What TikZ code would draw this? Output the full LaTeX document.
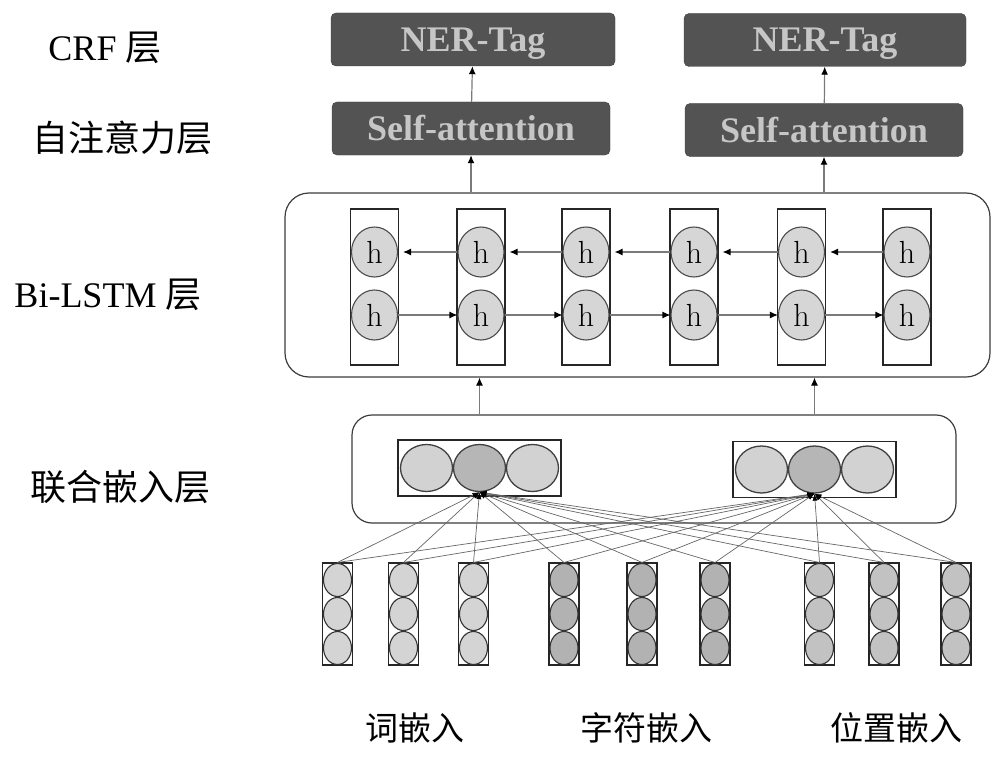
\documentclass[tikz,border=0pt]{standalone}
\usepackage{fontspec}
\newfontfamily\latfont{Liberation Serif}
\newfontfamily\cjkfont{Noto Sans CJK SC}
\usepackage{tikz}
\usetikzlibrary{arrows,arrows.meta,calc,positioning,shapes.geometric}
\tikzset{>=latex}
\definecolor{tagfill}{HTML}{535353}
\definecolor{tagtext}{HTML}{C6C6C6}
\definecolor{cellgray}{HTML}{D6D6D6}
\definecolor{emblight}{HTML}{D2D2D2}
\definecolor{embdark}{HTML}{B6B6B6}
\definecolor{grpa}{HTML}{D4D4D4}
\definecolor{grpb}{HTML}{B2B2B2}
\definecolor{grpc}{HTML}{C2C2C2}
\definecolor{linegray}{HTML}{7A7A7A}
\definecolor{framegray}{HTML}{3C3C3C}
\tikzset{
	tagbox/.style={draw=framegray, fill=tagfill, rounded corners=5pt, minimum height=53pt, text height=24pt, text depth=0pt, text=tagtext, font=\latfont\bfseries\fontsize{36}{36}\selectfont},
	layerbox/.style={draw=framegray, line width=1.2pt},
	cellbox/.style={draw=black!85, line width=1.1pt, minimum width=48pt, minimum height=156pt},
	hcirc/.style={ellipse, draw=black!70, line width=1.1pt, fill=cellgray, minimum width=46pt, minimum height=50pt, inner sep=0pt, font=\fontsize{32}{32}\selectfont},
	embcirc/.style={ellipse, draw=black!75, line width=1.3pt, minimum width=52pt, minimum height=47pt, inner sep=0pt},
	vecbox/.style={draw=black!85, line width=1.1pt, minimum width=30pt, minimum height=102pt},
	veccirc/.style={ellipse, draw=black!80, line width=1.1pt, minimum width=28pt, minimum height=33pt, inner sep=0pt},
	flow/.style={-{Latex[length=8pt,width=7pt,black]}, draw=linegray, line width=1.2pt},
	link/.style={-{Latex[length=7pt,width=5pt,black]}, draw=black!60, line width=0.7pt},
	layername/.style={font=\fontsize{36}{36}\selectfont},
	inname/.style={font=\cjkfont\fontsize{33}{33}\selectfont}
}

\begin{document}
\begin{tikzpicture}[x=1pt, y=-1pt]
	\useasboundingbox (0,0) rectangle (1000,757);
	% layer names
	\node[layername] (lcrf) at (105,48) {\latfont CRF \cjkfont 层};
	\node[layername] (latt) at (122,138) {\cjkfont 自注意力层};
	\node[layername] (llstm) at (108,295) {\latfont Bi-LSTM \cjkfont 层};
	\node[layername] (lemb) at (120,487) {\cjkfont 联合嵌入层};

	\node[tagbox, minimum width=284pt] (ner1) at (473,39.5) {NER-Tag};
	\node[tagbox, minimum width=282pt] (ner2) at (825,40) {NER-Tag};
	\node[tagbox, minimum width=278pt] (sa1) at (471,128.5) {Self-attention};
	\node[tagbox, minimum width=278pt] (sa2) at (824,130) {Self-attention};
	\draw[flow] (sa1) -- (ner1);
	\draw[flow] (sa2) -- (ner2);

	\node[layerbox, rounded corners=24pt, minimum width=705pt, minimum height=184pt] (lstm) at (637.5,285) {};
	\foreach \x [count=\i] in {374.5,481,586,694,801.5,907}{
		\node[cellbox] (c\i) at (\x,287) {};
		\node[hcirc] (t\i) at (\x,252) {h};
		\node[hcirc] (b\i) at (\x,315) {h};
	}
	\foreach \i [remember=\i as \p (initially 1)] in {2,...,6}{
		\draw[flow, shorten >=5pt] (t\i) -- (t\p);
		\draw[flow] (b\p) -- (b\i);
	}
	\draw[flow] (lstm.north -| sa1.south) -- (sa1.south);
	\draw[flow] (lstm.north -| sa2.south) -- (sa2.south);

	\node[layerbox, rounded corners=20pt, minimum width=604pt, minimum height=108pt] (emb) at (654,469) {};
	\node[vecbox, minimum width=163pt, minimum height=56pt] (eL) at (479.5,468) {};
	\node[vecbox, minimum width=163pt, minimum height=56pt] (eR) at (814.5,469.5) {};
	\foreach \k/\d/\c in {1/-53/emblight,2/0/embdark,3/53/emblight}{
		\node[embcirc, fill=\c] (eL\k) at (479.5+\d,468) {};
		\node[embcirc, fill=\c] (eR\k) at (814.5+\d,469.5) {};
	}
	\draw[flow] (emb.north -| eL2) -- (lstm.south -| eL2);
	\draw[flow] (emb.north -| eR2) -- (lstm.south -| eR2);

	\foreach \x/\c [count=\i] in {337.5/grpa,403.5/grpa,473.5/grpa,564/grpb,642/grpb,715/grpb,819.5/grpc,884/grpc,956/grpc}{
		\node[vecbox] (v\i) at (\x,614) {};
		\foreach \k/\y in {1/580,2/614,3/648}
			\node[veccirc, fill=\c] (v\i-\k) at (\x,\y) {};
		\draw[link] (v\i.north) -- (eL2.south);
		\draw[link] (v\i.north) -- (eR2.south);
	}

	\node[inname] (nword) at (415,728) {词嵌入};
	\node[inname] (nchar) at (646,728) {字符嵌入};
	\node[inname] (npos) at (896,728) {位置嵌入};
\end{tikzpicture}
\end{document}
